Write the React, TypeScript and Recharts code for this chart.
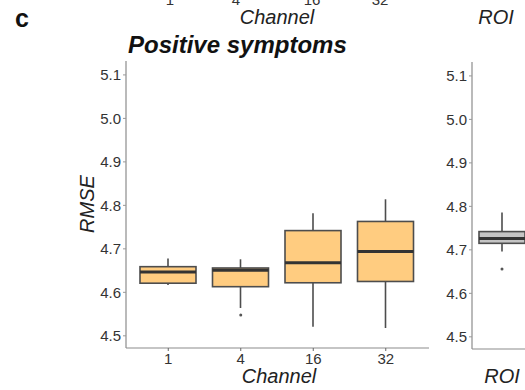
import React from 'react';
import { ComposedChart, Bar, Scatter, XAxis, YAxis } from 'recharts';

// channel panel
const categories = ['1', '4', '16', '32'];
const whiskerLow = [4.617, 4.564, 4.521, 4.518];
const q1 = [4.621, 4.613, 4.622, 4.625];
const median = [4.647, 4.651, 4.668, 4.694];
const q3 = [4.659, 4.656, 4.742, 4.763];
const whiskerHigh = [4.678, 4.676, 4.782, 4.814];
const outliers = [null, 4.548, null, null];

// ROI panel
const roiCategories = ['ROI'];
const roiWhiskerLow = [4.696];
const roiQ1 = [4.715];
const roiMedian = [4.726];
const roiQ3 = [4.742];
const roiWhiskerHigh = [4.786];
const roiOutliers = [4.656];

const yTicks = [4.5, 4.6, 4.7, 4.8, 4.9, 5.0, 5.1];
const yDomain = [4.472, 5.132];

const FONT = '"Liberation Sans", Arial, sans-serif';
const BORDER = '#8c8c8c';
const TEXT = '#333333';

const buildRows = (cats: string[], lo: number[], a: number[], m: number[], b: number[], hi: number[], out: (number | null)[]) =>
  cats.map((name, i) => ({
    name,
    range: [lo[i], hi[i]],
    low: lo[i],
    q1: a[i],
    median: m[i],
    q3: b[i],
    high: hi[i],
    outlier: out[i],
  }));

const makeBoxShape = (fill: string) => (props: any) => {
  const { x, y, width, height, payload } = props;
  const top = Math.min(y, y + height);
  const bottom = Math.max(y, y + height);
  const span = payload.high - payload.low;
  const py = (v: number) => bottom - ((v - payload.low) / span) * (bottom - top);
  const cx = x + width / 2;
  return (
    <g>
      <line x1={cx} x2={cx} y1={py(payload.high)} y2={py(payload.q3)} stroke="#4d4d4d" strokeWidth={1.6} />
      <line x1={cx} x2={cx} y1={py(payload.q1)} y2={py(payload.low)} stroke="#4d4d4d" strokeWidth={1.6} />
      <rect
        x={x}
        y={py(payload.q3)}
        width={width}
        height={py(payload.q1) - py(payload.q3)}
        fill={fill}
        stroke="#4d4d4d"
        strokeWidth={1.6}
      />
      <line x1={x} x2={x + width} y1={py(payload.median)} y2={py(payload.median)} stroke="#333" strokeWidth={3} />
    </g>
  );
};

const dotShape = (props: any) =>
  props.payload && props.payload.outlier != null && Number.isFinite(props.cy) ? (
    <circle cx={props.cx} cy={props.cy} r={1.5} fill="#555" />
  ) : (
    <g />
  );

const tickStyle = { fill: TEXT, fontSize: 15, fontFamily: FONT };

function BoxPanel({ rows, width, yWidth, barSize, showXTicks, padding, fill }: any) {
  return (
    <ComposedChart
      width={width}
      height={390}
      data={rows}
      margin={{ top: 61, right: 2, bottom: 12, left: 0 }}
    >
      <XAxis
        dataKey="name"
        type="category"
        height={30}
        padding={padding}
        axisLine={{ stroke: BORDER, strokeWidth: 1.2 }}
        tickLine={showXTicks ? { stroke: '#666' } : false}
        tickSize={3}
        tick={showXTicks ? tickStyle : false}
        interval={0}
      />
      <XAxis xAxisId="top" orientation="top" dataKey="name" height={0} tick={false} tickLine={false}
        axisLine={{ stroke: BORDER, strokeWidth: 1.2 }} />
      <YAxis
        type="number"
        domain={yDomain}
        ticks={yTicks}
        allowDataOverflow
        width={yWidth}
        axisLine={{ stroke: BORDER, strokeWidth: 1.2 }}
        tickLine={{ stroke: '#999' }}
        tickSize={3}
        tick={tickStyle}
        tickFormatter={(v: number) => v.toFixed(1)}
      />
      <YAxis yAxisId="right" orientation="right" width={0} tick={false} tickLine={false}
        domain={yDomain} axisLine={{ stroke: BORDER, strokeWidth: 1.2 }} />
      <Bar dataKey="range" barSize={barSize} shape={makeBoxShape(fill)} isAnimationActive={false} />
      <Scatter dataKey="outlier" shape={dotShape} isAnimationActive={false} />
    </ComposedChart>
  );
}

export default function App() {
  const rows = buildRows(categories, whiskerLow, q1, median, q3, whiskerHigh, outliers);
  const roiRows = buildRows(roiCategories, roiWhiskerLow, roiQ1, roiMedian, roiQ3, roiWhiskerHigh, roiOutliers);

  return (
    <div style={{ position: 'absolute', left: 0, top: 0, width: 525, height: 390, overflow: 'hidden', background: '#fff' }}>
      <div style={{ position: 'absolute', left: 0, top: 0 }}>
        <BoxPanel rows={rows} width={431} yWidth={126} barSize={56}
          showXTicks padding={{ left: 6, right: 7 }} fill="#ffcc80" />
      </div>
      <div style={{ position: 'absolute', left: 420, top: 1 }}>
        <BoxPanel rows={roiRows} width={154} yWidth={52} barSize={46}
          showXTicks={false} padding={{ left: 0, right: 40 }} fill="#c4c4c4" />
      </div>
      <svg width={525} height={390} style={{ position: 'absolute', left: 0, top: 0, pointerEvents: 'none' }}>
        {/* bottom edge of the tick labels of the panel above, cut by the crop */}
        <g fontFamily={FONT} fill={TEXT} fontSize={15} textAnchor="middle">
          <text x={170} y={5}>1</text>
          <text x={236} y={5}>4</text>
          <text x={312} y={5}>16</text>
          <text x={380} y={5}>32</text>
        </g>
        <text x={15} y={27} fontFamily={FONT} fontWeight="bold" fontSize={25} fill="#111">c</text>
        <text x={277} y={24} fontFamily={FONT} fontStyle="italic" fontSize={20} fill="#222" textAnchor="middle">Channel</text>
        <text x={496} y={24} fontFamily={FONT} fontStyle="italic" fontSize={20} fill="#222" textAnchor="middle">ROI</text>
        <text x={128} y={53} fontFamily={FONT} fontStyle="italic" fontWeight="bold" fontSize={24} fill="#111">Positive symptoms</text>
        <text x={279} y={383} fontFamily={FONT} fontStyle="italic" fontSize={20} fill="#222" textAnchor="middle">Channel</text>
        <text x={502} y={383} fontFamily={FONT} fontStyle="italic" fontSize={20} fill="#222" textAnchor="middle">ROI</text>
        <text transform="translate(94,204) rotate(-90)" fontFamily={FONT} fontStyle="italic" fontSize={20} fill="#222" textAnchor="middle">RMSE</text>
      </svg>
    </div>
  );
}
